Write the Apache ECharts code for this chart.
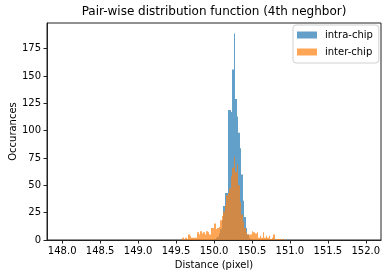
<!DOCTYPE html>
<html>
<head>
<meta charset="utf-8">
<script src="https://cdn.jsdelivr.net/npm/echarts@6/dist/echarts.min.js"></script>
<style>
html,body{margin:0;padding:0;background:#fff;}
#chart{width:389px;height:278px;}
</style>
</head>
<body>
<div id="chart"></div>
<script>
// Histogram bins (width 0.02 pixel)
const binWidth = 0.02;
// intra-chip counts, first bin starts at 150.00
const intraStart = 150.00;
const intraCounts = [1, 2, 3, 6, 10, 18, 31, 43, 43, 119, 119, 117, 156, 189, 129, 113, 98, 84, 60, 36, 21, 11, 5, 2, 1];
// inter-chip counts, first bin starts at 149.56
const interStart = 149.56;
const interCounts = [0, 2, 0, 2, 1, 5, 4, 2, 2, 2, 2, 7, 5, 8, 6, 7, 5, 8, 7, 5, 11, 11,
  15, 10, 11, 12, 18, 22, 26, 32, 41, 43, 47, 58, 66, 76, 62, 69, 50, 35, 23, 17, 11, 7, 5, 5, 5,
  8, 7, 6, 7, 2, 4, 2, 7, 2, 4, 2, 4, 1, 2, 5, 0, 1, 1, 1, 0, 1];
const xTicks = [148.0, 148.5, 149.0, 149.5, 150.0, 150.5, 151.0, 151.5, 152.0];
const yTicks = [0, 25, 50, 75, 100, 125, 150, 175];
const seriesNames = ['intra-chip', 'inter-chip'];

function toBins(start, counts) {
  return counts.map((c, i) => {
    const x0 = +(start + i * binWidth).toFixed(4);
    return [x0, +(x0 + binWidth).toFixed(4), c];
  });
}

function renderBar(params, api) {
  const c = api.value(2);
  if (!c) return null;
  const p0 = api.coord([api.value(0), 0]);
  const p1 = api.coord([api.value(1), c]);
  const xa = Math.round(p0[0]);
  const xb = Math.round(p1[0]);
  return {
    type: 'rect',
    shape: { x: xa, y: p1[1], width: Math.max(1, xb - xa), height: p0[1] - p1[1] },
    style: { fill: api.visual('color') }
  };
}

const font = 'DejaVu Sans';
const chart = echarts.init(document.getElementById('chart'), null, { renderer: 'canvas' });
chart.setOption({
  animation: false,
  backgroundColor: '#fff',
  textStyle: { fontFamily: font },
  title: {
    text: 'Pair-wise distribution function (4th neghbor)',
    left: 214, top: 6, textAlign: 'center', padding: 0,
    textStyle: { fontFamily: font, fontSize: 12, fontWeight: 'normal', color: '#000' }
  },
  grid: {
    left: 47, right: 8, top: 23, bottom: 38,
    outerBoundsMode: 'none', containLabel: false,
    show: true, borderColor: '#222', borderWidth: 1, backgroundColor: 'transparent'
  },
  legend: {
    orient: 'vertical', left: 293, top: 25,
    padding: [4, 6, 5, 4], itemGap: 5,
    itemWidth: 20, itemHeight: 7, icon: 'rect',
    borderColor: '#d0d0d0', borderWidth: 1, borderRadius: 3,
    backgroundColor: 'rgba(255,255,255,0.8)',
    textStyle: { fontFamily: font, fontSize: 10, color: '#000', lineHeight: 12, padding: [0, 0, 0, 3] },
    data: seriesNames
  },
  xAxis: {
    type: 'value', min: 147.8, max: 152.2,
    name: 'Distance (pixel)', nameLocation: 'middle', nameGap: 20, nameMoveOverlap: false,
    nameTextStyle: { fontFamily: font, fontSize: 10, color: '#000' },
    axisLine: { show: true, onZero: false, lineStyle: { color: '#222', width: 1 } },
    axisTick: { show: true, inside: false, length: 3.5, customValues: xTicks, lineStyle: { color: '#222' } },
    axisLabel: { fontFamily: font, fontSize: 10, color: '#000', margin: 6, customValues: xTicks,
      formatter: v => v.toFixed(1) },
    splitLine: { show: false }
  },
  yAxis: {
    type: 'value', min: 0, max: 198.5,
    name: 'Occurances', nameLocation: 'middle', nameGap: 29, nameRotate: 90, nameMoveOverlap: false,
    nameTextStyle: { fontFamily: font, fontSize: 10, color: '#000' },
    axisLine: { show: true, lineStyle: { color: '#222', width: 1 } },
    axisTick: { show: true, inside: false, length: 3.5, customValues: yTicks, lineStyle: { color: '#222' } },
    axisLabel: { fontFamily: font, fontSize: 10, color: '#000', margin: 6, customValues: yTicks },
    splitLine: { show: false }
  },
  series: [
    {
      name: seriesNames[0], type: 'custom', renderItem: renderBar,
      itemStyle: { color: 'rgba(31,119,180,0.7)' },
      encode: { x: [0, 1], y: 2 },
      data: toBins(intraStart, intraCounts)
    },
    {
      name: seriesNames[1], type: 'custom', renderItem: renderBar,
      itemStyle: { color: 'rgba(255,127,14,0.7)' },
      encode: { x: [0, 1], y: 2 },
      data: toBins(interStart, interCounts)
    }
  ]
});
</script>
</body>
</html>
